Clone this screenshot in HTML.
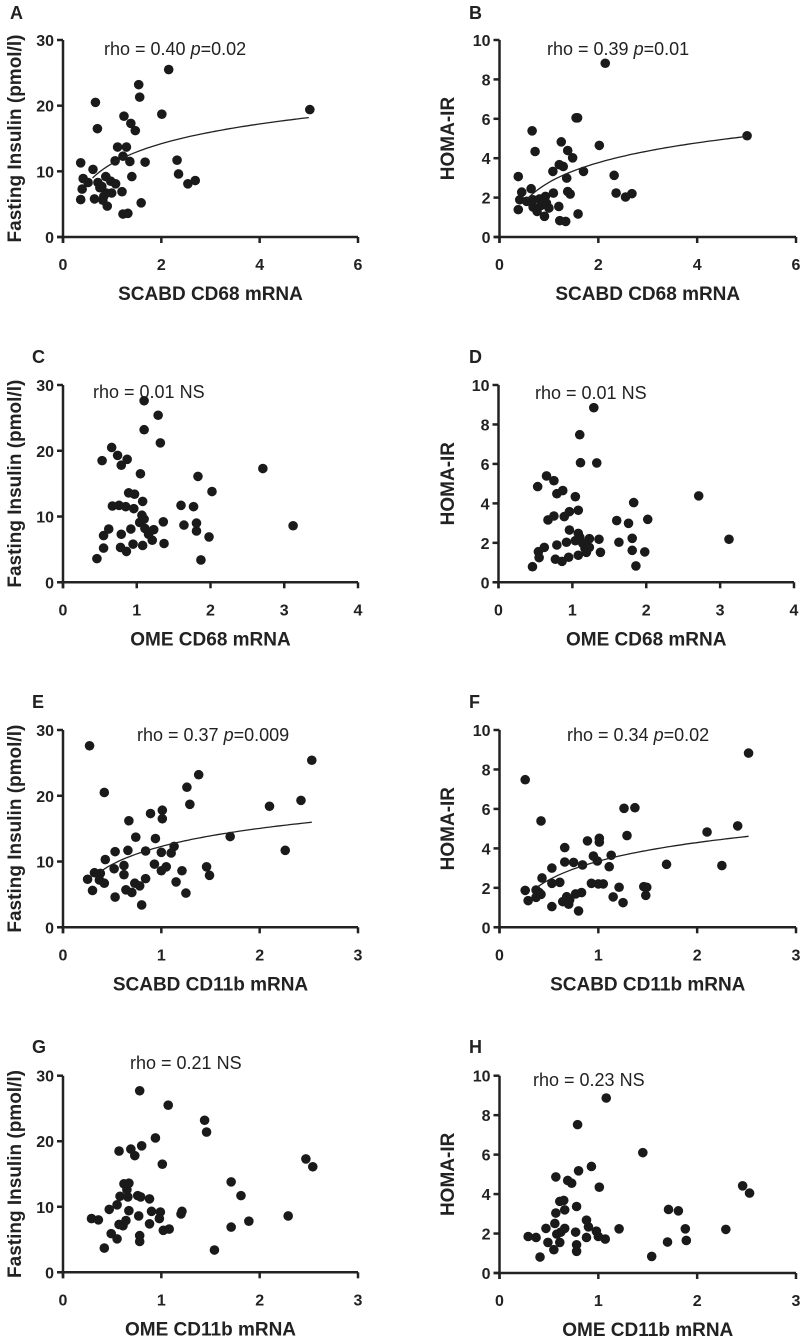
<!DOCTYPE html>
<html><head><meta charset="utf-8">
<style>
html,body{margin:0;padding:0;background:#fff;}
svg{display:block;font-family:"Liberation Sans",Arial,sans-serif;}
</style></head>
<body>
<svg id="fig" width="800" height="1341" viewBox="0 0 800 1341"></svg>
<script>
// ---- data ----
const aX=[5.02,2.15,1.54,1.56,0.66,2.01,1.24,1.38,0.70,1.47,1.11,1.29,1.22,1.06,1.36,1.67,2.32,0.36,0.61,2.35,0.41,1.40,0.87,0.97,1.07,0.51,0.71,0.75,0.39,1.20,2.54,2.69,0.88,0.99,0.64,0.36,0.81,0.90,1.59,1.22,1.32,0.79,0.83];
const aY=[19.4,25.5,23.2,21.3,20.5,18.7,18.4,17.3,16.5,16.2,13.7,13.7,12.3,11.6,11.5,11.4,11.7,11.3,10.3,9.6,8.9,9.2,9.2,8.5,8.1,8.3,8.3,7.5,7.3,6.9,8.1,8.6,6.7,6.7,5.8,5.7,5.6,4.7,5.2,3.5,3.6,7.7,6.2];
const bX=[5.01,2.14,1.55,1.58,0.66,2.02,1.25,0.72,1.38,1.48,1.21,1.29,1.08,1.70,2.32,0.38,1.36,0.64,1.38,1.43,2.36,2.68,2.55,0.45,1.09,0.93,0.41,0.55,0.68,0.81,0.95,1.00,0.84,0.68,0.76,0.38,1.20,1.59,0.91,1.22,1.34,0.88];
const bY=[5.14,8.82,6.05,6.05,5.39,4.65,4.83,4.34,4.39,4.02,3.67,3.58,3.33,3.33,3.13,3.07,2.99,2.45,2.31,2.18,2.23,2.20,2.03,2.28,2.23,2.06,1.89,1.81,1.89,1.93,1.72,1.47,1.60,1.52,1.30,1.39,1.55,1.17,1.05,0.83,0.79,1.67];
const cX=[1.10,1.29,1.10,1.32,0.66,0.53,0.74,0.87,0.79,1.05,2.71,1.83,2.02,0.89,0.97,1.08,0.67,0.76,0.85,0.96,1.60,1.77,1.07,1.10,1.04,1.36,1.81,1.64,3.12,0.62,0.92,1.11,1.23,1.81,0.55,0.79,1.16,1.21,1.98,1.37,0.55,0.78,0.95,1.08,0.86,0.46,1.87];
const cY=[27.6,25.4,23.2,21.2,20.5,18.5,19.3,18.7,17.8,16.5,17.3,16.1,13.8,13.6,13.4,12.3,11.6,11.7,11.5,11.2,11.7,11.5,10.2,9.6,9.1,9.2,9.0,8.7,8.6,8.1,8.1,8.2,8.0,7.8,7.1,7.3,7.3,6.4,6.9,5.9,5.2,5.3,5.8,5.6,4.7,3.6,3.4];
const dX=[1.29,1.10,1.11,1.33,0.65,0.75,0.53,0.79,0.87,1.04,2.71,1.83,1.08,0.96,0.89,0.75,0.67,1.60,1.76,2.02,0.96,1.08,1.10,1.04,1.23,1.36,1.81,3.12,0.92,0.79,1.14,1.63,0.62,0.54,1.17,1.23,1.19,1.38,1.81,1.98,0.55,1.08,0.95,0.77,0.86,0.46,1.86];
const dY=[8.85,7.48,6.06,6.05,5.39,5.15,4.85,4.49,4.65,4.34,4.38,4.04,3.65,3.58,3.33,3.36,3.16,3.13,2.99,3.19,2.65,2.48,2.28,2.11,2.21,2.18,2.23,2.18,2.03,1.89,1.98,2.03,1.77,1.55,1.72,1.77,1.52,1.52,1.62,1.54,1.25,1.37,1.27,1.17,1.06,0.79,0.83];
const eX=[0.27,2.53,1.38,1.26,0.42,1.29,2.42,2.10,1.01,0.89,1.01,0.67,1.70,0.74,0.94,1.13,1.10,1.00,0.84,0.66,0.53,2.26,0.43,0.93,1.05,1.46,0.62,0.52,1.00,1.21,1.49,0.32,0.38,0.62,0.25,0.37,0.42,0.84,1.15,0.73,0.78,0.64,0.30,0.70,1.25,0.53,0.80];
const eY=[27.6,25.4,23.2,21.3,20.5,18.7,19.3,18.4,17.8,17.3,16.5,16.2,13.8,13.7,13.5,12.3,11.3,11.4,11.6,11.7,11.5,11.7,10.3,9.6,9.2,9.2,9.4,8.9,8.6,8.6,7.9,8.3,8.2,8.0,7.3,7.2,6.7,7.4,6.9,6.7,6.3,5.7,5.6,5.3,5.2,4.6,3.4];
const fX=[2.52,0.26,1.26,1.37,0.42,2.41,2.10,1.29,1.01,1.01,0.89,0.66,1.13,0.95,0.99,0.66,0.75,0.84,1.11,1.69,2.25,0.53,0.43,0.61,0.53,0.93,1.00,1.05,1.21,1.46,1.49,0.26,0.37,0.40,0.42,0.83,0.77,0.68,1.15,1.48,0.37,0.29,0.64,0.71,0.70,1.25,0.53,0.80];
const fY=[8.83,7.48,6.03,6.06,5.39,5.14,4.83,4.65,4.51,4.32,4.38,4.04,3.65,3.61,3.36,3.31,3.29,3.16,3.07,3.19,3.13,3.00,2.50,2.28,2.23,2.23,2.20,2.20,2.03,2.06,2.03,1.87,1.89,1.77,1.67,1.76,1.69,1.55,1.54,1.62,1.52,1.35,1.30,1.39,1.17,1.25,1.05,0.83];
const gX=[0.78,1.07,1.44,1.46,0.94,0.57,0.69,0.73,0.80,1.01,2.47,2.54,1.71,0.62,0.67,0.65,0.58,0.66,0.76,0.79,0.88,1.81,0.55,0.47,0.67,0.90,0.99,1.21,1.20,0.77,2.29,0.29,0.36,0.64,0.98,1.89,0.57,0.61,0.88,1.71,1.02,1.08,0.49,0.55,0.78,0.78,0.42,1.54];
const gY=[27.7,25.5,23.2,21.4,20.5,18.5,18.8,17.8,19.3,16.5,17.3,16.1,13.8,13.5,13.6,12.6,11.6,11.5,11.7,11.5,11.2,11.7,10.3,9.6,9.4,9.3,9.2,9.3,8.9,8.6,8.6,8.2,8.0,7.9,8.2,7.8,7.3,7.1,7.4,6.9,6.4,6.6,5.9,5.1,5.6,4.7,3.7,3.4];
const hX=[1.08,0.79,1.45,0.93,0.57,0.80,0.69,0.73,1.01,2.46,2.53,0.61,0.65,0.66,0.78,1.71,1.81,0.57,0.88,0.56,0.90,0.47,0.66,1.21,1.88,2.29,0.98,0.77,0.62,0.29,0.37,0.58,1.00,0.88,1.07,0.49,0.61,1.70,1.89,0.78,0.55,0.78,0.41,1.54];
const hY=[8.87,7.52,6.10,5.40,4.87,5.18,4.69,4.55,4.35,4.42,4.05,3.63,3.68,3.20,3.37,3.22,3.15,3.04,2.68,2.51,2.34,2.26,2.26,2.24,2.24,2.21,2.12,2.07,2.07,1.85,1.80,1.97,1.85,1.80,1.72,1.55,1.55,1.57,1.65,1.43,1.18,1.10,0.81,0.84];
// fit curves y = a + b*ln(x): [a, b, xStart, xEnd]
const fitA=[11.2,4.34,0.6,5.0];
const fitB=[2.77,1.45,0.55,5.0];
const fitE=[12.3,3.96,0.38,2.53];
const fitF=[3.35,1.364,0.38,2.52];
const ticksX6=[0,2,4,6], ticksX4=[0,1,2,3,4], ticksX3=[0,1,2,3];
const ticksY30=[0,10,20,30], ticksY10=[0,2,4,6,8,10];

const NS="http://www.w3.org/2000/svg";
const svg=document.getElementById('fig');
function mk(tag,attrs,parent){const e=document.createElementNS(NS,tag);for(const k in attrs)e.setAttribute(k,attrs[k]);(parent||svg).appendChild(e);return e;}

function panel(p){
  const g=mk('g',{});
  
  
  const sx=v=>p.x0+(v-0)/(p.xMax)*(p.x1-p.x0);
  const sy=v=>p.y0-(v/p.yMax)*(p.y0-p.y1);
  const L=mk('text',{x:p.lx,y:p.ly,'font-size':18,'font-weight':'bold',fill:'#222'},g);L.textContent=p.letter;
  
  
  const ax=mk('path',{d:`M${p.x0},${p.y1} V${p.y0+6} M${p.x0-6},${p.y0} H${p.x1}`,stroke:'#222','stroke-width':2.5,fill:'none'},g);
  
  
  p.yt.forEach(t=>{
    mk('line',{x1:p.x0-6,x2:p.x0,y1:sy(t),y2:sy(t),stroke:'#222','stroke-width':2.5},g);
    const tx=mk('text',{x:p.x0-9,y:sy(t)+6,'text-anchor':'end','font-size':16,'font-weight':'bold',fill:'#222'},g);
    tx.textContent=t;
    
    
  });
  p.xt.forEach(t=>{
    mk('line',{x1:sx(t),x2:sx(t),y1:p.y0,y2:p.y0+6,stroke:'#222','stroke-width':2.5},g);
    const tx=mk('text',{x:sx(t),y:p.y0+33,'text-anchor':'middle','font-size':16,'font-weight':'bold',fill:'#222'},g);
    tx.textContent=t;
    
    
  });
  const xt=mk('text',{x:(p.x0+p.x1)/2,y:p.y0+63,'text-anchor':'middle','font-size':19,'font-weight':'bold',fill:'#222'},g);
  xt.textContent=p.xTitle;
  
  
  const cy=(p.y0+p.y1)/2;
  const yt=mk('text',{x:p.ytx,y:cy,'text-anchor':'middle','font-size':19,'font-weight':'bold',fill:'#222',transform:`rotate(-90 ${p.ytx} ${cy})`},g);
  yt.textContent=p.yTitle;
  
  
  const r=mk('text',{x:p.rx,y:p.ry,'font-size':18,fill:'#222'},g);
  
  
  if(p.pval){r.innerHTML=`${p.rho} <tspan font-style="italic">p</tspan>=${p.pval}`;} else r.textContent=p.rho;
  p.X.forEach((v,i)=>{
    const c=mk('circle',{cx:sx(v),cy:sy(p.Y[i]),r:4.8,fill:'#1a1a1a'},g);
    
    
  });
  if(p.fit){
    const [a,b,s,e]=p.fit;let d='';
    for(let k=0;k<=60;k++){const x=s+(e-s)*k/60;const y=a+b*Math.log(x);d+=(k?'L':'M')+sx(x).toFixed(1)+','+sy(y).toFixed(1);}
    const fl=mk('path',{d:d,stroke:'#222','stroke-width':1.3,fill:'none'},g);
    
    
  }
}
const FI='Fasting Insulin (pmol/l)', HI='HOMA-IR';
const L0=63,L1=358,R0=499.5,R1=796;
panel({letter:'A',lx:10,ly:19,x0:L0,x1:L1,xMax:6,xt:ticksX6,y0:237,y1:40,yMax:30,yt:ticksY30,xTitle:'SCABD CD68 mRNA',yTitle:FI,ytx:21,rx:104,ry:55,rho:'rho = 0.40',pval:'0.02',X:aX,Y:aY,fit:fitA});
panel({letter:'B',lx:469,ly:19,x0:R0,x1:R1,xMax:6,xt:ticksX6,y0:237,y1:40,yMax:10,yt:ticksY10,xTitle:'SCABD CD68 mRNA',yTitle:HI,ytx:454,rx:547,ry:55,rho:'rho = 0.39',pval:'0.01',X:bX,Y:bY,fit:fitB});
panel({letter:'C',lx:32,ly:363,x0:L0,x1:L1,xMax:4,xt:ticksX4,y0:582.3,y1:385,yMax:30,yt:ticksY30,xTitle:'OME CD68 mRNA',yTitle:FI,ytx:21,rx:93,ry:398,rho:'rho = 0.01 NS',X:cX,Y:cY});
panel({letter:'D',lx:469,ly:363,x0:R0-1,x1:R1-2,xMax:4,xt:ticksX4,y0:582.3,y1:385,yMax:10,yt:ticksY10,xTitle:'OME CD68 mRNA',yTitle:HI,ytx:454,rx:535,ry:399,rho:'rho = 0.01 NS',X:dX,Y:dY});
panel({letter:'E',lx:32,ly:708,x0:L0,x1:L1,xMax:3,xt:ticksX3,y0:927.3,y1:730,yMax:30,yt:ticksY30,xTitle:'SCABD CD11b mRNA',yTitle:FI,ytx:21,rx:137,ry:741,rho:'rho = 0.37',pval:'0.009',X:eX,Y:eY,fit:fitE});
panel({letter:'F',lx:469,ly:708,x0:R0,x1:R1,xMax:3,xt:ticksX3,y0:927.3,y1:730,yMax:10,yt:ticksY10,xTitle:'SCABD CD11b mRNA',yTitle:HI,ytx:454,rx:567,ry:741,rho:'rho = 0.34',pval:'0.02',X:fX,Y:fY,fit:fitF});
panel({letter:'G',lx:32,ly:1053,x0:L0,x1:L1,xMax:3,xt:ticksX3,y0:1272.3,y1:1075.7,yMax:30,yt:ticksY30,xTitle:'OME CD11b mRNA',yTitle:FI,ytx:21,rx:130,ry:1069,rho:'rho = 0.21 NS',X:gX,Y:gY});
panel({letter:'H',lx:469,ly:1053,x0:R0,x1:R1,xMax:3,xt:ticksX3,y0:1273,y1:1075.7,yMax:10,yt:ticksY10,xTitle:'OME CD11b mRNA',yTitle:HI,ytx:454,rx:533,ry:1086,rho:'rho = 0.23 NS',X:hX,Y:hY});
</script>
</body></html>
